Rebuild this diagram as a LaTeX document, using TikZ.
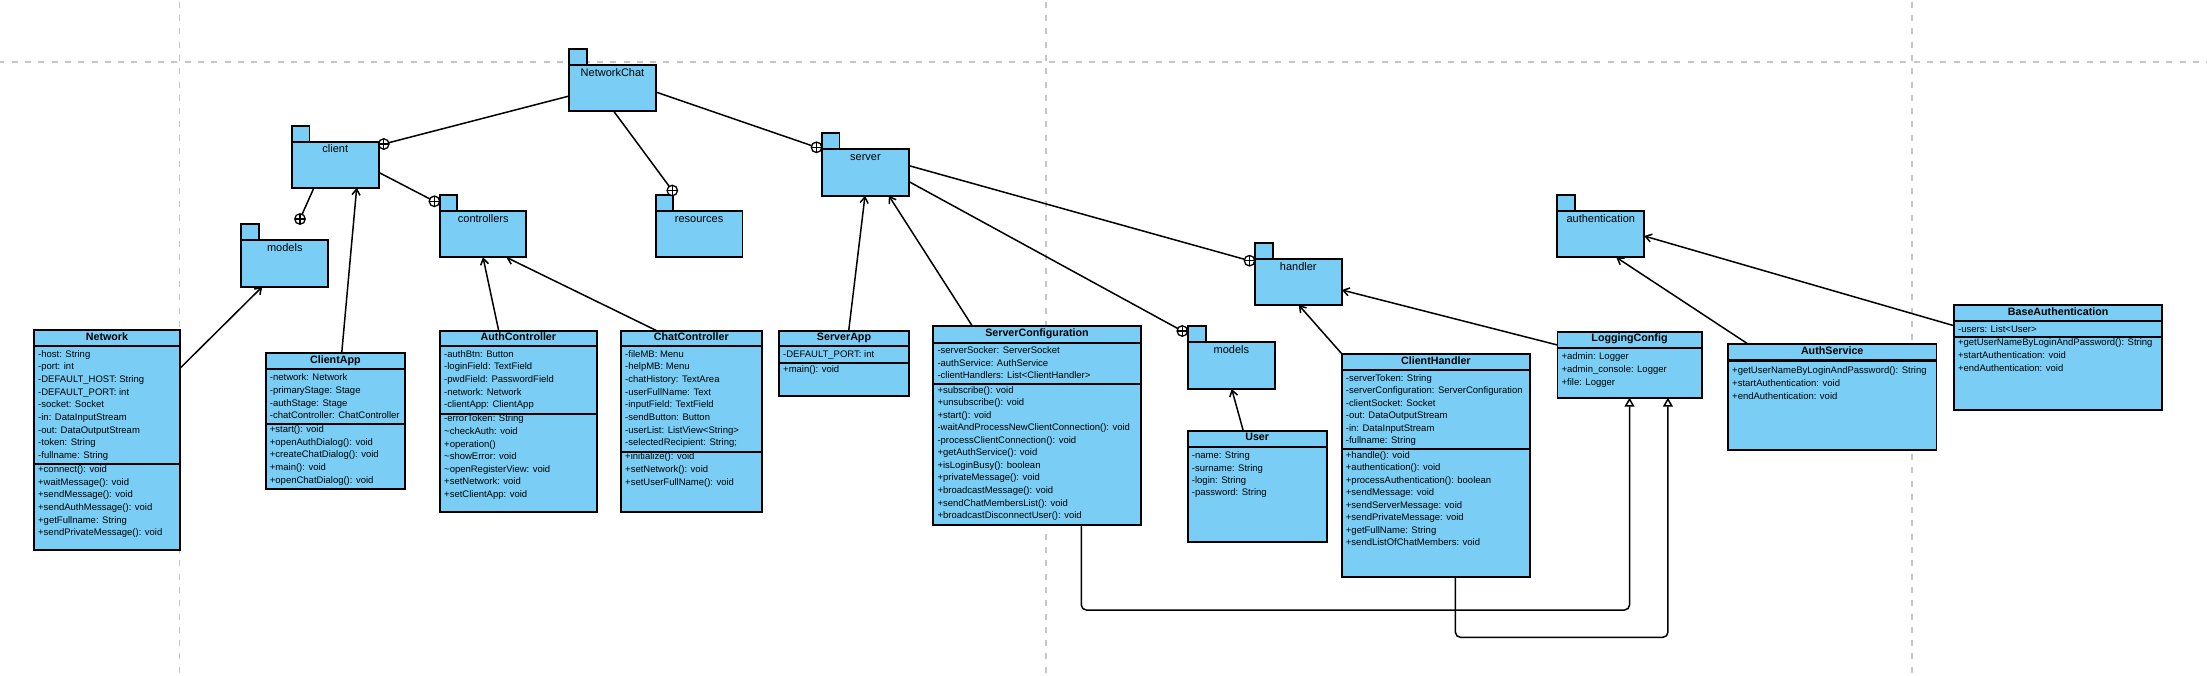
\documentclass[tikz,border=0pt]{standalone}
\usepackage{fontspec}
\setmainfont{Liberation Sans}
\usetikzlibrary{arrows.meta}
\definecolor{umlblue}{RGB}{122,206,245}
\definecolor{gridgray}{RGB}{198,198,198}
\tikzset{
 box/.style={rectangle, draw=black, fill=umlblue, line width=1.8pt, inner sep=0pt, outer sep=0pt, anchor=north west},
 sepline/.style={draw=black, line width=1.8pt},
 titletxt/.style={anchor=base, inner sep=0pt, font=\fontsize{10.7}{12}\selectfont\bfseries},
 rowtxt/.style={anchor=base west, inner sep=0pt, font=\fontsize{9.5}{11}\selectfont},
 pkglabel/.style={anchor=base, inner sep=0pt, font=\fontsize{11}{13}\selectfont},
 conn/.style={draw=black, line width=1.5pt},
 dep/.style={conn, -{Straight Barb[length=6pt,width=8pt]}},
 gen/.style={conn, rounded corners=5pt, -{Triangle[open,length=9pt,width=10pt]}},
 plusc/.style={circle, draw=black, fill=white, line width=1.3pt, minimum size=10.5pt, inner sep=0pt, outer sep=0pt,
   path picture={\draw[line width=1.2pt] (path picture bounding box.north) -- (path picture bounding box.south)
   (path picture bounding box.west) -- (path picture bounding box.east);}},
 gridline/.style={draw=gridgray, line width=1.6pt, dash pattern=on 6pt off 7.3pt},
}
% class box: name, L, T, R, B, title-bottom, title
\newcommand{\umlclass}[7]{%
 \node[box, minimum width={(#4)-(#2)}, minimum height={(#5)-(#3)}] (#1) at (#2,#3) {};
 \draw[sepline] (#2,#6) -- (#4,#6);
 \node[titletxt] (#1-title) at ({((#2)+(#4))/2},{(#6)-6}) {#7};}
% separator line
\newcommand{\umlsep}[3]{\draw[sepline] (#1,#3) -- (#2,#3);}
% rows: prefix, L, first centre y, spacing, list
\newcommand{\umlrows}[5]{%
 \foreach \t [count=\i] in {#5} {\node[rowtxt] (#1-\i) at ({(#2)+4},{(#3)+3+(\i-1)*(#4)}) {\t};}}
% package: name, L, tabTop, tabR, bodyTop, R, B, label
\newcommand{\umlpkg}[8]{%
 \node[box, minimum width={(#4)-(#2)}, minimum height={(#5)-(#3)}] (#1t) at (#2,#3) {};
 \node[box, minimum width={(#6)-(#2)}, minimum height={(#7)-(#5)}] (#1b) at (#2,#5) {};
 \node[pkglabel] (#1l) at ({((#2)+(#6))/2},{(#5)+11}) {#8};}

\begin{document}
\begin{tikzpicture}[x=1pt,y=-1pt]
\useasboundingbox[fill=white] (0,0) rectangle (2207,675);
% background grid
\draw[gridline] (-1.6,61.7) -- (2207,61.7);
\draw[gridline] (179.3,1.7) -- (179.3,675);
\draw[gridline] (1045.8,1.7) -- (1045.8,675);
\draw[gridline] (1911.7,1.7) -- (1911.7,675);

% packages
\umlpkg{nc}{569.2}{49}{586.6}{65}{655.8}{111.3}{NetworkChat}
\umlpkg{client}{292}{125.7}{309.4}{141.7}{378.6}{187.7}{client}
\umlpkg{modelsc}{241.3}{224}{259}{240}{328.3}{286.7}{models}
\umlpkg{ctrl}{440.2}{195}{457.1}{211}{526.3}{257.3}{controllers}
\umlpkg{res}{655.8}{195}{672.8}{211}{742.4}{257.3}{resources}
\umlpkg{server}{821.8}{133.3}{839.4}{149.3}{909.1}{195.7}{server}
\umlpkg{handler}{1254.6}{242.7}{1272.6}{259}{1341.9}{305}{handler}
\umlpkg{modelss}{1187.7}{325.7}{1205.7}{342.3}{1275}{389}{models}
\umlpkg{auth}{1557.3}{195}{1575.3}{211}{1644.2}{257.3}{authentication}

% classes
\umlclass{network}{34}{330}{180}{550}{346}{Network}
\umlsep{34}{180}{464}
\umlrows{network-a}{34}{354.3}{12.65}{-host: String, -port: int, -DEFAULT\_HOST: String, -DEFAULT\_PORT: int, -socket: Socket, -in: DataInputStream, -out: DataOutputStream, -token: String, -fullname: String}
\umlrows{network-m}{34}{469.7}{12.6}{+connect(): void, +waitMessage(): void, +sendMessage(): void, +sendAuthMessage(): void, +getFullname: String, +sendPrivateMessage(): void}

\umlclass{clientapp}{265.7}{353.3}{405}{489.3}{369.3}{ClientApp}
\umlsep{265.7}{405}{424.3}
\umlrows{clientapp-a}{265.7}{377.7}{12.65}{-network: Network, -primaryStage: Stage, -authStage: Stage, -chatController: ChatController}
\umlrows{clientapp-m}{265.7}{429.7}{12.6}{+start(): void, +openAuthDialog(): void, +createChatDialog(): void, +main(): void, +openChatDialog(): void}

\umlclass{authctrl}{440}{330.7}{596.7}{512.3}{346}{AuthController}
\umlsep{440}{596.7}{413.7}
\umlrows{authctrl-a}{440}{354.3}{12.65}{-authBtn: Button, -loginField: TextField, -pwdField: PasswordField, -network: Network, -clientApp: ClientApp}
\umlrows{authctrl-m}{440}{418.7}{12.65}{-errorToken: String, \textasciitilde checkAuth: void, +operation(), \textasciitilde showError: void, \textasciitilde openRegisterView: void, +setNetwork: void, +setClientApp: void}

\umlclass{chatctrl}{621}{330.7}{761.7}{512.3}{346}{ChatController}
\umlsep{621}{761.7}{451.7}
\umlrows{chatctrl-a}{621}{354.3}{12.62}{-fileMB: Menu, -helpMB: Menu, -chatHistory: TextArea, -userFullName: Text, -inputField: TextField, -sendButton: Button, -userList: ListView<String>, -selectedRecipient: String;}
\umlrows{chatctrl-m}{621}{456.7}{12.65}{+initialize(): void, +setNetwork(): void, +setUserFullName(): void}

\umlclass{serverapp}{779}{330.7}{909}{396}{346}{ServerApp}
\umlsep{779}{909}{362.7}
\umlrows{serverapp-a}{779}{354.3}{12.6}{-DEFAULT\_PORT: int}
\umlrows{serverapp-m}{779}{369}{12.6}{+main(): void}

\umlclass{servconf}{933.3}{326}{1140.7}{525}{342.7}{ServerConfiguration}
\umlsep{933.3}{1140.7}{384}
\umlrows{servconf-a}{933.3}{350.7}{12.5}{-serverSocker: ServerSocket, -authService: AuthService, -clientHandlers: List<ClientHandler>}
\umlrows{servconf-m}{933.3}{390}{12.57}{+subscribe(): void, +unsubscribe(): void, +start(): void, -waitAndProcessNewClientConnection(): void, -processClientConnection(): void, +getAuthService(): void, +isLoginBusy(): boolean, +privateMessage(): void, +broadcastMessage(): void, +sendChatMembersList(): void, +broadcastDisconnectUser(): void}

\umlclass{user}{1187.7}{431}{1326.7}{541.7}{446.7}{User}
\umlrows{user-a}{1187.7}{455.7}{12.4}{-name: String, -surname: String, -login: String, -password: String}

\umlclass{clienthandler}{1341.7}{353.7}{1530}{576.7}{370}{ClientHandler}
\umlsep{1341.7}{1530}{449}
\umlrows{clienthandler-a}{1341.7}{378}{12.53}{-serverToken: String, -serverConfiguration: ServerConfiguration, -clientSocket: Socket, -out: DataOutputStream, -in: DataInputStream, -fullname: String}
\umlrows{clienthandler-m}{1341.7}{455}{12.53}{+handle(): void, +authentication(): void, +processAuthentication(): boolean, +sendMessage: void, +sendServerMessage: void, +sendPrivateMessage: void, +getFullName: String, +sendListOfChatMembers: void}

\umlclass{logging}{1557.4}{331.7}{1701.6}{397.7}{347.7}{LoggingConfig}
\umlrows{logging-a}{1557.4}{356}{13}{+admin: Logger, +admin\_console: Logger, +file: Logger}

\umlclass{authservice}{1728}{344.3}{1936.4}{450}{360}{AuthService}
\umlsep{1728}{1936.4}{361.5}
\umlrows{authservice-m}{1728}{370.7}{12.67}{+getUserNameByLoginAndPassword(): String, +startAuthentication: void, +endAuthentication: void}

\umlclass{baseauth}{1953.9}{304.7}{2162.3}{410}{321}{BaseAuthentication}
\umlsep{1953.9}{2162.3}{337.3}
\umlrows{baseauth-a}{1953.9}{329}{12.6}{-users: List<User>}
\umlrows{baseauth-m}{1953.9}{342.7}{13}{+getUserNameByLoginAndPassword(): String, +startAuthentication: void, +endAuthentication: void}

% containment circles
\node[plusc] (pc-client) at (383.8,144) {};
\node[plusc] (pc-server) at (816.5,147.3) {};
\node[plusc] (pc-res) at (672.3,190.5) {};
\node[plusc] (pc-ctrl) at (434.4,201.3) {};
\node[plusc] (pc-modelsc) at (300,219) {};
\node[plusc] (pc-modelss) at (1182.3,331) {};
\node[plusc] (pc-handler) at (1249.5,260.7) {};

% containment connectors
\draw[conn] ([yshift=-31pt]ncb.north west) -- (pc-client);
\draw[conn] ([yshift=-27pt]ncb.north east) -- (pc-server);
\draw[conn] ([xshift=44.6pt]ncb.south west) -- (pc-res);
\draw[conn] ([yshift=-30.6pt]clientb.north east) -- (pc-ctrl);
\draw[conn] ([xshift=22pt]clientb.south west) -- (pc-modelsc);
\draw[conn] ([yshift=-32.4pt]serverb.north east) -- (pc-modelss);
\draw[conn] ([yshift=-16.4pt]serverb.north east) -- (pc-handler);

% dependency arrows
\draw[dep] ([xshift=76pt]clientapp.north west) -- ([xshift=64.7pt]clientb.south west);
\draw[dep] ([yshift=-38.3pt]network.north east) -- ([xshift=21pt]modelscb.south west);
\draw[dep] ([xshift=58.7pt]authctrl.north west) -- ([xshift=42.8pt]ctrlb.south west);
\draw[dep] ([xshift=35.7pt]chatctrl.north west) -- ([xshift=66.1pt]ctrlb.south west);
\draw[dep] ([xshift=69.7pt]serverapp.north west) -- ([xshift=43.2pt]serverb.south west);
\draw[dep] ([xshift=39pt]servconf.north west) -- ([xshift=67pt]serverb.south west);
\draw[dep] ([xshift=55.6pt]user.north west) -- ([xshift=44pt]modelssb.south west);
\draw[dep] (clienthandler.north west) -- ([xshift=44.1pt]handlerb.south west);
\draw[dep] ([yshift=-13.3pt]logging.north west) -- ([yshift=-31pt]handlerb.north east);
\draw[dep] ([xshift=20.4pt]authservice.north west) -- ([xshift=58.9pt]authb.south west);
\draw[dep] ([yshift=-21pt]baseauth.north west) -- ([yshift=-25pt]authb.north east);

% generalization connectors
\draw[gen] ([xshift=148pt]servconf.south west) -- ++(0,85) -| ([xshift=72.1pt]logging.south west);
\draw[gen] ([xshift=113.7pt]clienthandler.south west) -- ++(0,60.6) -| ([xshift=110.5pt]logging.south west);
\end{tikzpicture}
\end{document}
